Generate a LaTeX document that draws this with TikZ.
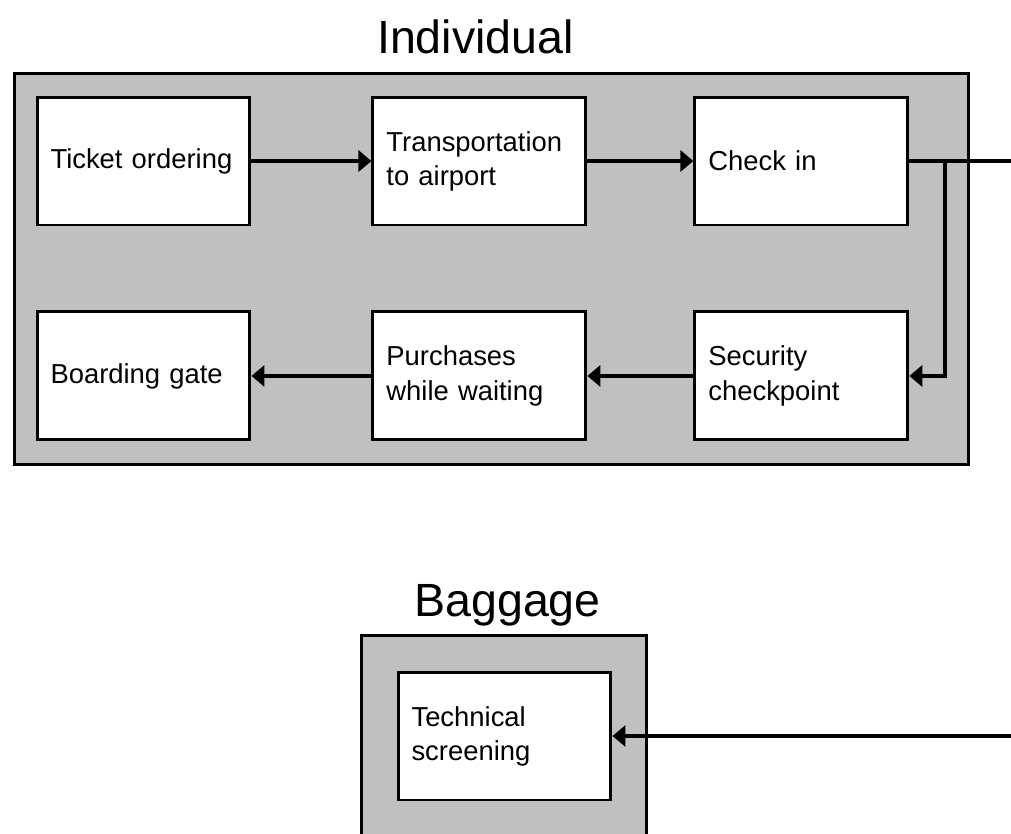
\documentclass[tikz,border=0pt]{standalone}
\usepackage{fontspec}
\setmainfont{Liberation Sans}
\usepackage{tikz}
\usepackage{xcolor}
\usetikzlibrary{positioning,arrows.meta}
\definecolor{panelgray}{RGB}{192,192,192}

\begin{document}
\begin{tikzpicture}[
        x=0.02cm, y=-0.02cm,
        node distance=1.68cm,
        panel/.style={rectangle, draw=black, fill=panelgray, line width=1.7pt},
        title/.style={font=\fontsize{26.5}{32}\selectfont, anchor=base, inner sep=0pt},
        box/.style={rectangle, draw=black, fill=white, line width=1.7pt, minimum width=4.26cm, minimum height=2.56cm, text width=3.72cm, inner xsep=0.27cm, align=left, font=\fontsize{15.6}{19.4}\selectfont},
        line/.style={line width=2.1pt, black},
        arrow/.style={line, -{Triangle[length=0.26cm, width=0.42cm]}}
    ]
        \useasboundingbox (0,0) rectangle (1011,833);
        \clip (0,0) rectangle (1011,833);

        % Panels
        \node[panel, minimum width=19.1cm, minimum height=7.84cm] (individual) at (491.5,269) {};
        \node[title] (individualtitle) at (475.5,53) {Individual};
        \node[panel, anchor=north, minimum width=5.72cm, minimum height=5.6cm] (baggage) at (504,633.5) {};
        \node[title] (baggagetitle) at (507.5,616) {Baggage};

        % Upper row
        \node[box] (ticket) at (143.5,161) {Ticket ordering};
        \node[box, right=2.4cm of ticket] (transport) {Transportation\\to airport};
        \node[box, right=2.12cm of transport] (checkin) {Check in};

        % Lower row
        \node[box, below=of ticket] (boarding) {Boarding gate};
        \node[box, below=of transport] (purchases) {Purchases\\while waiting};
        \node[box, below=of checkin] (security) {Security\\checkpoint};

        % Baggage
        \node[box] (screening) at (504.5,736) {Technical\\screening};

        % Free ends
        \coordinate[right=0.72cm of checkin.east] (split);
        \coordinate[right=2.2cm of checkin.east] (outtop);
        \coordinate[right=8.2cm of screening.east] (outbottom);

        % Arrows
        \draw[arrow] (ticket) -- (transport);
        \draw[arrow] (transport) -- (checkin);
        \draw[line] (checkin) -- (outtop);
        \draw[arrow] (split) |- (security);
        \draw[arrow] (security) -- (purchases);
        \draw[arrow] (purchases) -- (boarding);
        \draw[arrow] (outbottom) -- (screening);
    \end{tikzpicture}
\end{document}
